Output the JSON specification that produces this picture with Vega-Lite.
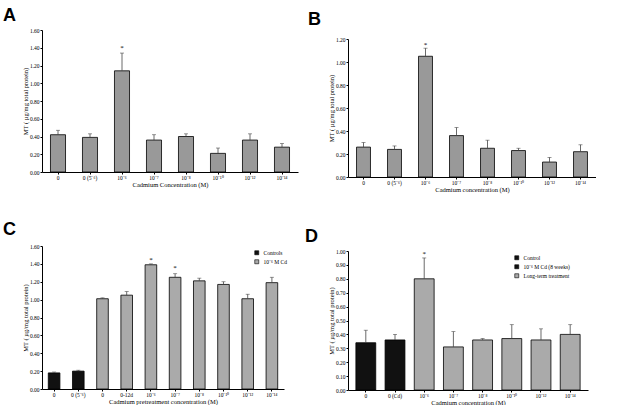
{
  "$schema": "https://vega.github.io/schema/vega-lite/v6.json",
  "padding": {"left": 3, "top": 7, "right": 0, "bottom": 0},
  "background": "white",
  "config": {
    "view": {"stroke": null},
    "axis": {"domainColor": "black", "tickColor": "black", "labelColor": "black", "titleColor": "black", "labelFont": "Liberation Serif", "titleFont": "Liberation Serif", "labelFontSize": 5.5, "titleFontSize": 6.5, "titleFontWeight": "normal", "grid": false, "tickSize": 2, "labelPadding": 1, "domainWidth": 1},
    "title": {"font": "Liberation Sans", "fontWeight": "bold", "fontSize": 18, "anchor": "start", "frame": "group", "baseline": "alphabetic", "color": "black"},
    "legend": {"labelFont": "Liberation Serif", "labelFontSize": 5.5, "labelColor": "black", "symbolType": "square", "symbolSize": 16, "symbolStrokeColor": "black", "symbolStrokeWidth": 0.6, "rowPadding": 1, "labelOffset": 4}
  },
  "datasets": {
    "a": [
      {"label": "0", "value": 0.42, "err": 0.47},
      {"label": "0 (5⁻⁶)", "value": 0.39, "err": 0.43},
      {"label": "10⁻⁶", "value": 1.14, "err": 1.34, "star": 1.40},
      {"label": "10⁻⁷", "value": 0.36, "err": 0.42},
      {"label": "10⁻⁸", "value": 0.40, "err": 0.43},
      {"label": "10⁻¹⁰", "value": 0.21, "err": 0.27},
      {"label": "10⁻¹²", "value": 0.36, "err": 0.43},
      {"label": "10⁻¹⁴", "value": 0.28, "err": 0.32}
    ],
    "b": [
      {"label": "0", "value": 0.26, "err": 0.30},
      {"label": "0 (5⁻⁶)", "value": 0.24, "err": 0.27},
      {"label": "10⁻⁶", "value": 1.05, "err": 1.12, "star": 1.15},
      {"label": "10⁻⁷", "value": 0.36, "err": 0.43},
      {"label": "10⁻⁸", "value": 0.25, "err": 0.32},
      {"label": "10⁻¹⁰", "value": 0.23, "err": 0.25},
      {"label": "10⁻¹²", "value": 0.13, "err": 0.17},
      {"label": "10⁻¹⁴", "value": 0.22, "err": 0.28}
    ],
    "c": [
      {"label": "0", "group": "Controls", "value": 0.18, "err": 0.19},
      {"label": "0 (5⁻⁶)", "group": "Controls", "value": 0.20, "err": 0.21},
      {"label": "0 ", "group": "10⁻⁶ M Cd", "value": 1.01, "err": 1.02},
      {"label": "0-12d", "group": "10⁻⁶ M Cd", "value": 1.05, "err": 1.09},
      {"label": "10⁻⁶", "group": "10⁻⁶ M Cd", "value": 1.39, "err": 1.40, "star": 1.44},
      {"label": "10⁻⁷", "group": "10⁻⁶ M Cd", "value": 1.25, "err": 1.29, "star": 1.35},
      {"label": "10⁻⁸", "group": "10⁻⁶ M Cd", "value": 1.21, "err": 1.24},
      {"label": "10⁻¹⁰", "group": "10⁻⁶ M Cd", "value": 1.17, "err": 1.20},
      {"label": "10⁻¹²", "group": "10⁻⁶ M Cd", "value": 1.01, "err": 1.06},
      {"label": "10⁻¹⁴", "group": "10⁻⁶ M Cd", "value": 1.19, "err": 1.25}
    ],
    "d": [
      {"label": "0", "group": "Control", "value": 0.34, "err": 0.43},
      {"label": "0 (Cd)", "group": "10⁻⁶ M Cd (8 weeks)", "value": 0.36, "err": 0.40},
      {"label": "10⁻⁶", "group": "Long-term treatment", "value": 0.80, "err": 0.95, "star": 0.98},
      {"label": "10⁻⁷", "group": "Long-term treatment", "value": 0.31, "err": 0.42},
      {"label": "10⁻⁸", "group": "Long-term treatment", "value": 0.36, "err": 0.37},
      {"label": "10⁻¹⁰", "group": "Long-term treatment", "value": 0.37, "err": 0.47},
      {"label": "10⁻¹²", "group": "Long-term treatment", "value": 0.36, "err": 0.44},
      {"label": "10⁻¹⁴", "group": "Long-term treatment", "value": 0.40, "err": 0.47}
    ]
  },
  "resolve": {"scale": {"color": "independent"}, "legend": {"color": "independent"}},
  "spacing": 7,
  "hconcat": [
    {
      "resolve": {"scale": {"color": "independent"}, "legend": {"color": "independent"}},
      "spacing": 33,
      "vconcat": [
        {
          "data": {"name": "a"},
          "width": 256, "height": 142,
          "title": {"text": "A", "offset": 3, "dx": -39},
          "encoding": {
            "x": {"field": "label", "type": "nominal", "sort": null, "scale": {"paddingInner": 0.53}, "axis": {"labelAngle": 0, "title": "Cadmium Concentration (M)", "titlePadding": 1}},
            "y": {"field": "value", "type": "quantitative", "scale": {"domain": [0, 1.6], "nice": false}, "axis": {"values": [0, 0.2, 0.4, 0.6, 0.8, 1.0, 1.2, 1.4, 1.6], "format": ".2f", "labelOverlap": false, "title": "MT (  µg/mg total protein)", "titlePadding": 1}}
          },
          "layer": [
            {"mark": {"type": "bar", "color": "#999999", "stroke": "black", "strokeWidth": 0.8}},
            {"mark": {"type": "rule", "color": "#444", "strokeWidth": 0.8}, "encoding": {"y2": {"field": "err"}}},
            {"mark": {"type": "tick", "color": "#444", "thickness": 0.8, "size": 4}, "encoding": {"y": {"field": "err", "type": "quantitative"}}},
            {"transform": [{"filter": "datum.star != null"}], "mark": {"type": "text", "text": "*", "font": "Liberation Serif", "fontSize": 7, "baseline": "middle"}, "encoding": {"y": {"field": "star", "type": "quantitative"}}}
          ]
        },
        {
          "data": {"name": "c"},
          "width": 242, "height": 143,
          "title": {"text": "C", "offset": 5, "dx": -39},
          "encoding": {
            "x": {"field": "label", "type": "nominal", "sort": null, "scale": {"paddingInner": 0.52}, "axis": {"labelAngle": 0, "title": "Cadmium pretreatment concentration (M)", "titlePadding": 1}},
            "y": {"field": "value", "type": "quantitative", "scale": {"domain": [0, 1.6], "nice": false}, "axis": {"values": [0, 0.2, 0.4, 0.6, 0.8, 1.0, 1.2, 1.4, 1.6], "format": ".2f", "labelOverlap": false, "title": "MT (  µg/mg total protein)", "titlePadding": 1}}
          },
          "layer": [
            {"mark": {"type": "bar", "stroke": "black", "strokeWidth": 0.8},
             "encoding": {
               "color": {"field": "group", "type": "nominal", "scale": {"domain": ["Controls", "10⁻⁶ M Cd"], "range": ["#111111", "#aaaaaa"]}, "legend": {"title": null, "orient": "none", "legendX": 212, "legendY": 4}}
             }},
            {"mark": {"type": "rule", "color": "#444", "strokeWidth": 0.8}, "encoding": {"y2": {"field": "err"}}},
            {"mark": {"type": "tick", "color": "#444", "thickness": 0.8, "size": 4}, "encoding": {"y": {"field": "err", "type": "quantitative"}}},
            {"transform": [{"filter": "datum.star != null"}], "mark": {"type": "text", "text": "*", "font": "Liberation Serif", "fontSize": 7, "baseline": "middle"}, "encoding": {"y": {"field": "star", "type": "quantitative"}}}
          ]
        }
      ]
    },
    {
      "resolve": {"scale": {"color": "independent"}, "legend": {"color": "independent"}},
      "spacing": 35,
      "vconcat": [
        {
          "data": {"name": "b"},
          "width": 248, "height": 147,
          "title": {"text": "B", "offset": 1, "dx": -40},
          "encoding": {
            "x": {"field": "label", "type": "nominal", "sort": null, "scale": {"paddingInner": 0.55}, "axis": {"labelAngle": 0, "title": "Cadmium concentration (M)", "titlePadding": 1}},
            "y": {"field": "value", "type": "quantitative", "scale": {"domain": [0, 1.2], "nice": false, "range": [147, 9]}, "axis": {"values": [0, 0.2, 0.4, 0.6, 0.8, 1.0, 1.2], "format": ".2f", "labelOverlap": false, "title": "MT (  µg/mg total protein)", "titlePadding": 1}}
          },
          "layer": [
            {"mark": {"type": "bar", "color": "#999999", "stroke": "black", "strokeWidth": 0.8}},
            {"mark": {"type": "rule", "color": "#444", "strokeWidth": 0.8}, "encoding": {"y2": {"field": "err"}}},
            {"mark": {"type": "tick", "color": "#444", "thickness": 0.8, "size": 4}, "encoding": {"y": {"field": "err", "type": "quantitative"}}},
            {"transform": [{"filter": "datum.star != null"}], "mark": {"type": "text", "text": "*", "font": "Liberation Serif", "fontSize": 7, "baseline": "middle"}, "encoding": {"y": {"field": "star", "type": "quantitative"}}}
          ]
        },
        {
          "data": {"name": "d"},
          "width": 240, "height": 143,
          "title": {"text": "D", "offset": 1, "dx": -43},
          "encoding": {
            "x": {"field": "label", "type": "nominal", "sort": null, "scale": {"paddingInner": 0.32, "paddingOuter": 0.27}, "axis": {"labelAngle": 0, "title": "Cadmium concentration (M)", "titlePadding": 1}},
            "y": {"field": "value", "type": "quantitative", "scale": {"domain": [0, 1.0], "nice": false, "range": [143, 4]}, "axis": {"values": [0, 0.1, 0.2, 0.3, 0.4, 0.5, 0.6, 0.7, 0.8, 0.9, 1.0], "format": ".2f", "labelOverlap": false, "title": "MT (  µg/mg total protein)", "titlePadding": 1}}
          },
          "layer": [
            {"mark": {"type": "bar", "stroke": "black", "strokeWidth": 0.8},
             "encoding": {
               "color": {"field": "group", "type": "nominal", "scale": {"domain": ["Control", "10⁻⁶ M Cd (8 weeks)", "Long-term treatment"], "range": ["#111111", "#111111", "#aaaaaa"]}, "legend": {"title": null, "orient": "none", "legendX": 166, "legendY": 8}}
             }},
            {"mark": {"type": "rule", "color": "#444", "strokeWidth": 0.8}, "encoding": {"y2": {"field": "err"}}},
            {"mark": {"type": "tick", "color": "#444", "thickness": 0.8, "size": 4}, "encoding": {"y": {"field": "err", "type": "quantitative"}}},
            {"transform": [{"filter": "datum.star != null"}], "mark": {"type": "text", "text": "*", "font": "Liberation Serif", "fontSize": 7, "baseline": "middle"}, "encoding": {"y": {"field": "star", "type": "quantitative"}}}
          ]
        }
      ]
    }
  ]
}
